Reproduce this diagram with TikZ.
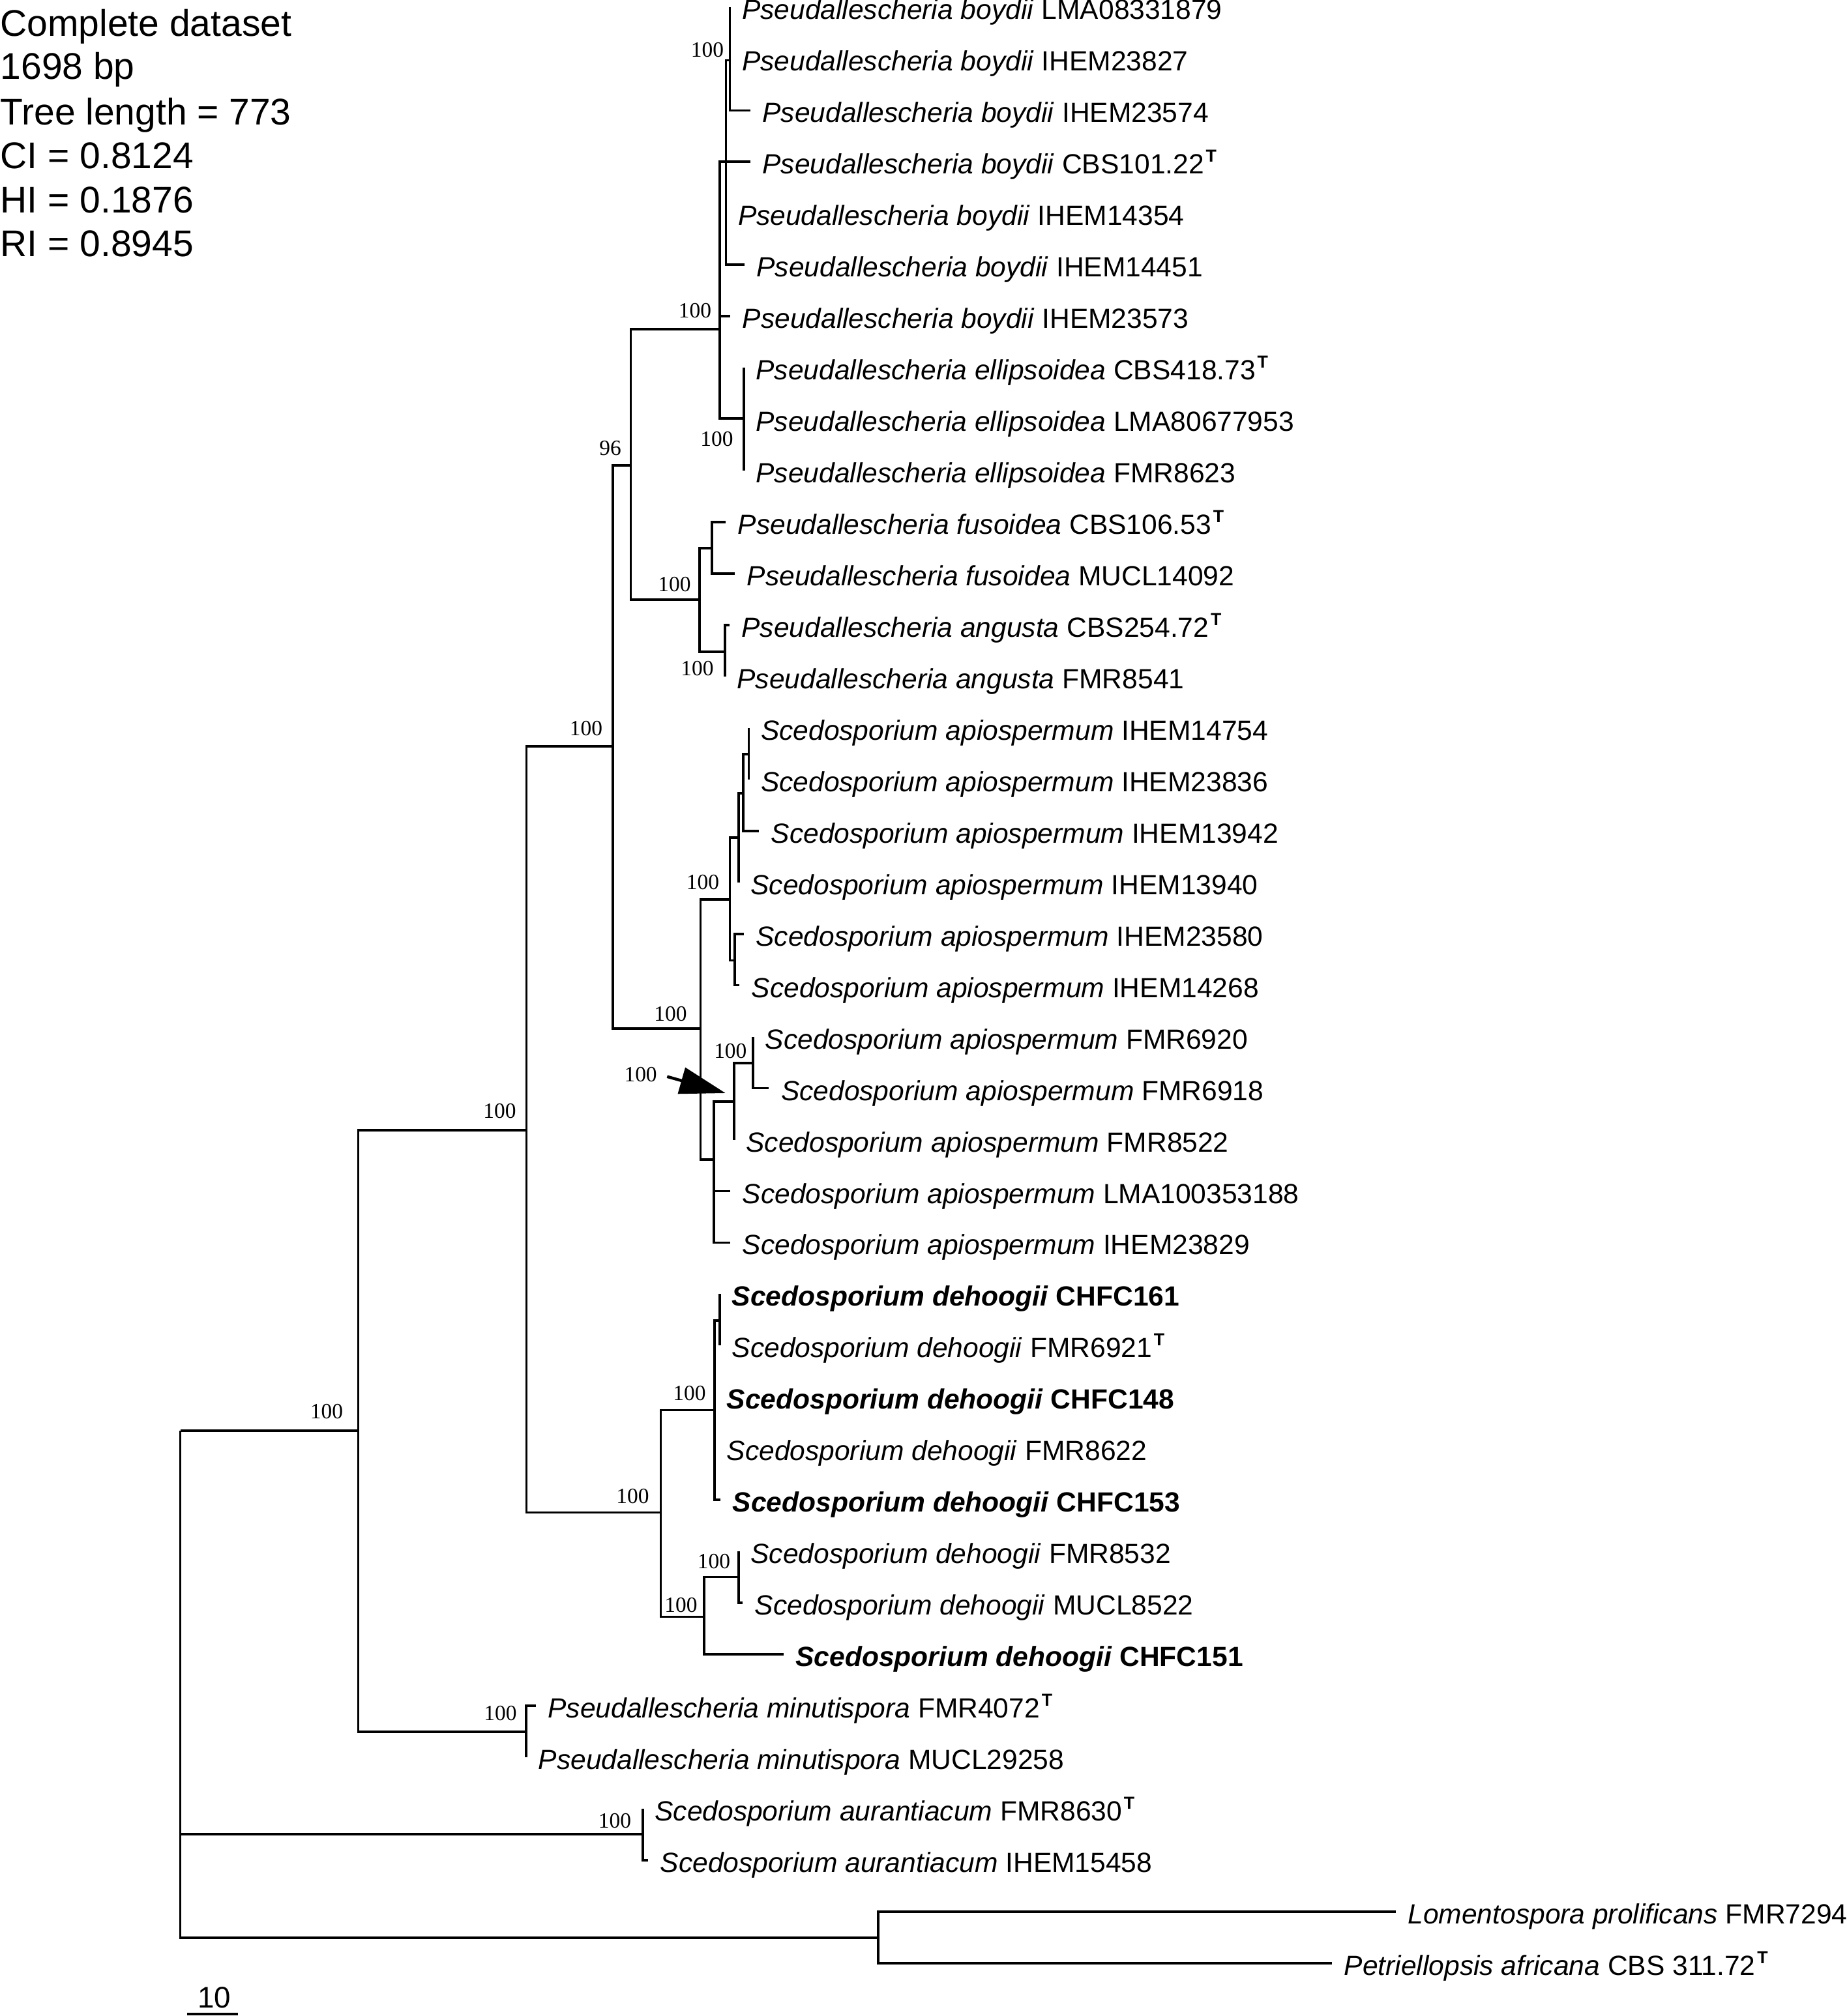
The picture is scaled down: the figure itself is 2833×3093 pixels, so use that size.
\documentclass[tikz,border=0pt]{standalone}
\usepackage{fontspec}
\setmainfont{Liberation Sans}
\newfontfamily\bsfont{Liberation Serif}
\usetikzlibrary{arrows.meta}
\newcommand{\typeT}{\hspace{0.8pt}\raisebox{5.2pt}{\fontsize{7.6}{8}\selectfont\bfseries T}}
\newcommand{\mkleaf}[4]{\coordinate (#1) at (#2,{11.4+78.96*(#3-1)}); \node[leaflbl] (#1l) at (#1) {#4};}
\newcommand{\PB}{\textit{Pseudallescheria boydii}}
\newcommand{\SA}{\textit{Scedosporium apiospermum}}
\newcommand{\SD}{\textit{Scedosporium dehoogii}}
\begin{document}
\begin{tikzpicture}[x=0.01cm,y=-0.01cm,
  branch/.style={line width=0.036cm},
  leaflbl/.style={anchor=base west, inner sep=0pt, xshift=0.18cm, yshift=-0.185cm, font=\fontsize{12.1}{14}\selectfont},
  bs/.style={inner sep=0pt, font=\bsfont\fontsize{9.5}{11}\selectfont},
  hdr/.style={anchor=base west, inner sep=0pt, font=\fontsize{16.2}{18}\selectfont}]
\useasboundingbox (0,0) rectangle (2833,3093);

% header
\node[hdr] (h1) at (0,55) {Complete dataset};
\node[hdr] (h2) at (0,121.7) {1698 bp};
\node[hdr] (h3) at (0,191.7) {Tree length = 773};
\node[hdr] (h4) at (0,258.3) {CI = 0.8124};
\node[hdr] (h5) at (0,326.7) {HI = 0.1876};
\node[hdr] (h6) at (0,393.3) {RI = 0.8945};

% internal nodes
\coordinate (root) at (276.5,2194.8);
\coordinate (N1) at (549.5,2194.8);
\coordinate (N2) at (807.5,1733.8);
\coordinate (N3) at (939.8,1145);
\coordinate (N4) at (967.5,714);
\coordinate (B) at (1104,505);
\coordinate (S) at (1113.3,248.3);
\coordinate (C123) at (1119.3,92.4);
\coordinate (E) at (1140.7,641.8);
\coordinate (FA) at (1073,920);
\coordinate (Fu) at (1092,841);
\coordinate (An) at (1111.7,1000);
\coordinate (A) at (1074.3,1578);
\coordinate (AU) at (1119.3,1380);
\coordinate (U1) at (1132.7,1285);
\coordinate (U2) at (1140,1216.7);
\coordinate (U3) at (1148.3,1156.7);
\coordinate (U4) at (1126.7,1473.3);
\coordinate (AL) at (1095,1779);
\coordinate (L2) at (1125.7,1690);
\coordinate (L3) at (1155,1630.7);
\coordinate (D) at (1013.4,2320.5);
\coordinate (D1) at (1096,2163.4);
\coordinate (D1a) at (1104,2025.7);
\coordinate (D2) at (1079.7,2480.4);
\coordinate (D21) at (1132.8,2419.6);
\coordinate (M) at (807,2656.8);
\coordinate (Au) at (985.7,2814);
\coordinate (O) at (1347,2972.7);

% leaves
\mkleaf{t1}{1119.3}{1}{\PB{} LMA08331879}
\mkleaf{t2}{1119.3}{2}{\PB{} IHEM23827}
\mkleaf{t3}{1150.7}{3}{\PB{} IHEM23574}
\mkleaf{t4}{1150.7}{4}{\PB{} CBS101.22\typeT}
\mkleaf{t5}{1113.3}{5}{\PB{} IHEM14354}
\mkleaf{t6}{1141.7}{6}{\PB{} IHEM14451}
\mkleaf{t7}{1120}{7}{\PB{} IHEM23573}
\mkleaf{t8}{1140.7}{8}{\textit{Pseudallescheria ellipsoidea} CBS418.73\typeT}
\mkleaf{t9}{1140.7}{9}{\textit{Pseudallescheria ellipsoidea} LMA80677953}
\mkleaf{t10}{1140.7}{10}{\textit{Pseudallescheria ellipsoidea} FMR8623}
\mkleaf{t11}{1113}{11}{\textit{Pseudallescheria fusoidea} CBS106.53\typeT}
\mkleaf{t12}{1127}{12}{\textit{Pseudallescheria fusoidea} MUCL14092}
\mkleaf{t13}{1118.7}{13}{\textit{Pseudallescheria angusta} CBS254.72\typeT}
\mkleaf{t14}{1111.7}{14}{\textit{Pseudallescheria angusta} FMR8541}
\mkleaf{t15}{1148.3}{15}{\SA{} IHEM14754}
\mkleaf{t16}{1148.3}{16}{\SA{} IHEM23836}
\mkleaf{t17}{1164}{17}{\SA{} IHEM13942}
\mkleaf{t18}{1132.7}{18}{\SA{} IHEM13940}
\mkleaf{t19}{1140.7}{19}{\SA{} IHEM23580}
\mkleaf{t20}{1134}{20}{\SA{} IHEM14268}
\mkleaf{t21}{1155}{21}{\SA{} FMR6920}
\mkleaf{t22}{1179.3}{22}{\SA{} FMR6918}
\mkleaf{t23}{1125.7}{23}{\SA{} FMR8522}
\mkleaf{t24}{1120}{24}{\SA{} LMA100353188}
\mkleaf{t25}{1120}{25}{\SA{} IHEM23829}
\mkleaf{t26}{1104}{26}{\textbf{\SD{} CHFC161}}
\mkleaf{t27}{1104}{27}{\SD{} FMR6921\typeT}
\mkleaf{t28}{1096}{28}{\textbf{\SD{} CHFC148}}
\mkleaf{t29}{1096}{29}{\SD{} FMR8622}
\mkleaf{t30}{1105}{30}{\textbf{\SD{} CHFC153}}
\mkleaf{t31}{1132.8}{31}{\SD{} FMR8532}
\mkleaf{t32}{1139}{32}{\SD{} MUCL8522}
\mkleaf{t33}{1201.6}{33}{\textbf{\SD{} CHFC151}}
\mkleaf{t34}{821.8}{34}{\textit{Pseudallescheria minutispora} FMR4072\typeT}
\mkleaf{t35}{807}{35}{\textit{Pseudallescheria minutispora} MUCL29258}
\mkleaf{t36}{985.7}{36}{\textit{Scedosporium aurantiacum} FMR8630\typeT}
\mkleaf{t37}{994}{37}{\textit{Scedosporium aurantiacum} IHEM15458}
\mkleaf{t38}{2140.8}{38}{\textit{Lomentospora prolificans} FMR7294}
\mkleaf{t39}{2043}{39}{\textit{Petriellopsis africana} CBS 311.72\typeT}

% branches
\foreach \p/\c in {root/N1, root/Au, root/O, N1/N2, N1/M, N2/N3, N2/D, N3/N4, N3/A,
  N4/B, N4/FA, B/S, B/t4, B/t7, B/E, S/C123, S/t5, S/t6, C123/t1, C123/t2, C123/t3,
  E/t8, E/t9, E/t10, FA/Fu, FA/An, Fu/t11, Fu/t12, An/t13, An/t14,
  A/AU, A/AL, AU/U1, AU/U4, U1/U2, U1/t18, U2/U3, U2/t17, U3/t15, U3/t16, U4/t19, U4/t20,
  AL/L2, AL/t24, AL/t25, L2/L3, L2/t23, L3/t21, L3/t22,
  D/D1, D/D2, D1/D1a, D1/t28, D1/t29, D1/t30, D1a/t26, D1a/t27, D2/D21, D2/t33, D21/t31, D21/t32,
  M/t34, M/t35, Au/t36, Au/t37, O/t38, O/t39}
  \draw[branch] (\p) |- (\c);

% bootstrap values
\node[bs] (bN1) at (501,2165.5) {100};
\node[bs] (bN2) at (766.5,1704.5) {100};
\node[bs] (bN3) at (899,1118) {100};
\node[bs] (bN4) at (936,687.5) {96};
\node[bs] (bB) at (1066,477) {100};
\node[bs] (bS) at (1085,76.5) {100};
\node[bs] (bE) at (1099.5,673.5) {100};
\node[bs] (bFA) at (1034.5,897) {100};
\node[bs] (bAn) at (1069.5,1025.5) {100};
\node[bs] (bA) at (1028.5,1556) {100};
\node[bs] (bAU) at (1078,1353.5) {100};
\node[bs] (bL3) at (1120.3,1612.7) {100};
\node[bs] (bL2) at (982.6,1648.4) {100};
\node[bs] (bD) at (970.5,2295.5) {100};
\node[bs] (bD1) at (1057.5,2138) {100};
\node[bs] (bD2) at (1044.5,2462.2) {100};
\node[bs] (bD21) at (1095,2396) {100};
\node[bs] (bM) at (767.5,2629) {100};
\node[bs] (bAu) at (943,2794) {100};

% arrow
\coordinate (arrS) at (1023.3,1651.7);
\coordinate (arrT) at (1112.7,1677);
\draw[line width=0.045cm, -{Triangle[length=0.7cm, width=0.41cm]}] (arrS) -- (arrT);

% scale bar
\coordinate (sbL) at (287.3,3090);
\coordinate (sbR) at (365,3090);
\draw[line width=0.045cm] (sbL) -- (sbR);
\node[anchor=base, inner sep=0pt, font=\fontsize{13}{15}\selectfont] (sb) at (329,3080) {10};
\end{tikzpicture}
\end{document}
